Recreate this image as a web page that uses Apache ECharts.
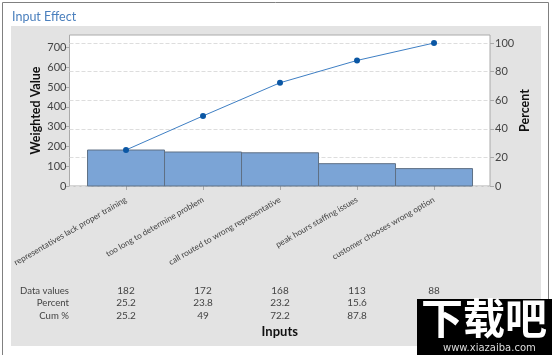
<!DOCTYPE html>
<html>
<head>
<meta charset="utf-8">
<style>
  html, body { margin: 0; padding: 0; background: #fff; }
  #main { width: 552px; height: 355px; }
</style>
<script src="https://cdn.jsdelivr.net/npm/echarts@6/dist/echarts.min.js"></script>
</head>
<body>
<div id="main"></div>
<script>
var categories = ['representatives lack proper training', 'too long to determine problem', 'call routed to wrong representative', 'peak hours staffing issues', 'customer chooses wrong option'];
var dataValues = [182, 172, 168, 113, 88];
var percentValues = [25.2, 23.8, 23.2, 15.6, 12.2];
var cumValues = [25.2, 49, 72.2, 87.8, 100];
var leftTicks = [0, 100, 200, 300, 400, 500, 600, 700];
var rightTicks = [0, 20, 40, 60, 80, 100];
var positions = [0, 1, 2, 3, 4];
var rowNames = ['Data values', 'Percent', 'Cum %'];
var rowOffsets = [100, 112, 125];
var rowValues = [dataValues, percentValues, cumValues];

var font = 'Lato';
var textColor = '#444';

// the plot runs a bit past the first and last bar, so x is a value axis
function xBase(extra) {
  return Object.assign({
    type: 'value',
    min: -0.734,
    max: 4.727,
    position: 'bottom',
    splitLine: { show: false },
    axisLine: { show: false },
    axisTick: { show: false }
  }, extra);
}

var xAxes = [xBase({
  name: 'Inputs',
  nameLocation: 'middle',
  nameGap: 139,
  nameTextStyle: { fontFamily: font, fontWeight: 'bold', fontSize: 13, color: '#111' },
  axisTick: { show: true, length: 4, lineStyle: { color: '#aaa' }, customValues: positions },
  axisLabel: {
    customValues: positions,
    rotate: 30,
    margin: 13,
    fontFamily: font,
    fontSize: 8.3,
    color: textColor,
    formatter: function (v) { return categories[v]; }
  }
})];

rowValues.forEach(function (row, r) {
  xAxes.push(xBase({
    offset: rowOffsets[r],
    axisLabel: {
      customValues: positions,
      margin: 0,
      fontFamily: font,
      fontSize: 10,
      color: textColor,
      formatter: function (v) { return String(row[v]); }
    }
  }));
});

var rowLabels = rowNames.map(function (name, r) {
  return {
    type: 'text',
    z: 5,
    x: 69,
    y: 286 + rowOffsets[r] - 100,
    style: { text: name, align: 'right', fontFamily: font, fontSize: 9.6, fill: textColor }
  };
});

// touching bars, one full unit wide on the value axis
function renderBar(params, api) {
  var a = api.coord([api.value(0) - 0.5, api.value(1)]);
  var b = api.coord([api.value(0) + 0.5, 0]);
  return {
    type: 'rect',
    shape: { x: a[0], y: a[1], width: b[0] - a[0], height: b[1] - a[1] },
    style: { fill: '#7ba4d6', stroke: '#5f7085', lineWidth: 1 }
  };
}

var chart = echarts.init(document.getElementById('main'));
chart.setOption({
  animation: false,
  grid: {
    left: 69.5, top: 35, width: 420.5, height: 151,
    show: true,
    backgroundColor: '#fff',
    borderColor: '#aaa',
    borderWidth: 1
  },
  xAxis: xAxes,
  yAxis: [
    {
      type: 'value',
      min: 0,
      max: 764,
      name: 'Weighted Value',
      nameLocation: 'middle',
      nameGap: 27,
      nameMoveOverlap: false,
      nameTextStyle: { fontFamily: font, fontWeight: 'bold', fontSize: 12.5, color: '#111' },
      splitLine: { show: false },
      axisLine: { show: false, onZero: false },
      axisTick: { show: true, length: 4, lineStyle: { color: '#aaa' }, customValues: leftTicks },
      axisLabel: { customValues: leftTicks, margin: 3, fontFamily: font, fontSize: 11, color: textColor }
    },
    {
      type: 'value',
      min: 0,
      max: 105.6,
      position: 'right',
      name: 'Percent',
      nameLocation: 'middle',
      nameGap: 28,
      nameMoveOverlap: false,
      nameTextStyle: { fontFamily: font, fontWeight: 'bold', fontSize: 12.5, color: '#111' },
      splitLine: { show: true, lineStyle: { color: '#ddd', type: 'dashed' } },
      axisLine: { show: false, onZero: false },
      axisTick: { show: true, length: 4, lineStyle: { color: '#aaa' }, customValues: rightTicks },
      axisLabel: { customValues: rightTicks, margin: 5, fontFamily: font, fontSize: 11, color: textColor }
    }
  ],
  series: [
    {
      type: 'custom',
      renderItem: renderBar,
      z: 3,
      encode: { x: 0, y: 1 },
      data: dataValues.map(function (v, i) { return [positions[i], v]; })
    },
    {
      type: 'line',
      yAxisIndex: 1,
      z: 4,
      symbol: 'circle',
      symbolSize: 6,
      data: cumValues.map(function (v, i) { return [positions[i], v]; }),
      lineStyle: { color: '#3f7fc4', width: 1 },
      itemStyle: { color: '#0b57a4' }
    }
  ],
  graphic: [
    { type: 'rect', z: -20, shape: { x: 2.5, y: 2.5, width: 546, height: 360 }, style: { fill: '#fff', stroke: '#808080', lineWidth: 1 } },
    { type: 'rect', z: -10, shape: { x: 11, y: 26, width: 530, height: 320 }, style: { fill: '#e3e3e3' } },
    { type: 'text', z: 5, x: 12, y: 10, style: { text: 'Input Effect', fontFamily: font, fontSize: 12.5, fill: '#4a7fbd' } },
    { type: 'rect', z: 50, shape: { x: 417, y: 299, width: 135, height: 56 }, style: { fill: '#000' } },
    { type: 'text', z: 51, x: 421, y: 297, style: { text: '下载吧', fontFamily: 'Noto Sans CJK SC', fontWeight: 'bold', fontSize: 42, fill: '#fff' } },
    { type: 'text', z: 51, x: 443, y: 343, style: { text: 'www.xiazaiba.com', fontFamily: 'DejaVu Sans', fontSize: 10, fill: '#ddd' } }
  ].concat(rowLabels)
});
</script>
</body>
</html>
